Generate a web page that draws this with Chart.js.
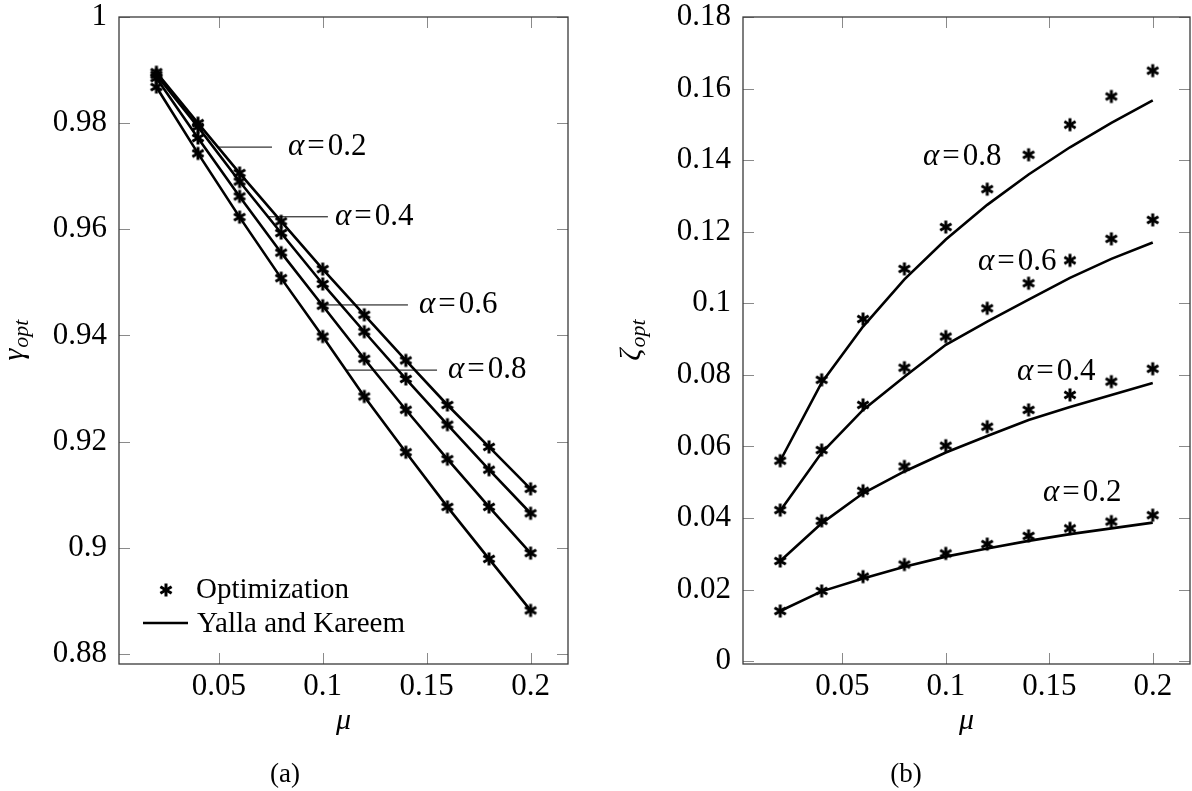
<!DOCTYPE html>
<html>
<head>
<meta charset="utf-8">
<script src="https://cdn.jsdelivr.net/npm/chart.js@4.4.0/dist/chart.umd.min.js"></script>
<style>
  html, body { margin: 0; padding: 0; background: #fff; }
  #wrap { position: relative; width: 1192px; height: 791px; overflow: hidden; }
  #wrap canvas { position: absolute; top: 0; }
  .cap { position: absolute; font: 27px "Liberation Serif", serif; color: #000; transform: translate(-50%, -50%); }
</style>
</head>
<body>
<div id="wrap">
  <canvas id="gamma" width="596" height="791" style="left:0"></canvas>
  <canvas id="zeta" width="596" height="791" style="left:596px"></canvas>
  <div class="cap" style="left:285px; top:773px">(a)</div>
  <div class="cap" style="left:906px; top:773px">(b)</div>
</div>
<script>
// mass ratio
const mu = [0.02, 0.04, 0.06, 0.08, 0.1, 0.12, 0.14, 0.16, 0.18, 0.2];
const alphas = ['0.2', '0.4', '0.6', '0.8'];

// optimal frequency ratio, optimization results
const gammaOpt02 = [0.9896, 0.9800, 0.9706, 0.9615, 0.9525, 0.9439, 0.9353, 0.9269, 0.9190, 0.9111];
const gammaOpt04 = [0.9891, 0.9793, 0.9690, 0.9593, 0.9497, 0.9407, 0.9318, 0.9232, 0.9147, 0.9065];
const gammaOpt06 = [0.9885, 0.9772, 0.9662, 0.9556, 0.9456, 0.9356, 0.9260, 0.9167, 0.9077, 0.8990];
const gammaOpt08 = [0.9868, 0.9743, 0.9623, 0.9508, 0.9398, 0.9285, 0.9180, 0.9077, 0.8979, 0.8882];
// optimal frequency ratio, Yalla and Kareem
const gammaYK02 = [0.9896, 0.9800, 0.9706, 0.9615, 0.9525, 0.9439, 0.9353, 0.9269, 0.9190, 0.9111];
const gammaYK04 = [0.9891, 0.9793, 0.9690, 0.9593, 0.9497, 0.9407, 0.9318, 0.9232, 0.9147, 0.9065];
const gammaYK06 = [0.9885, 0.9772, 0.9662, 0.9556, 0.9456, 0.9356, 0.9260, 0.9167, 0.9077, 0.8990];
const gammaYK08 = [0.9868, 0.9743, 0.9623, 0.9508, 0.9398, 0.9285, 0.9180, 0.9077, 0.8979, 0.8882];

// optimal damping ratio, optimization results
const zetaOpt02 = [0.0140, 0.0196, 0.0236, 0.0270, 0.0301, 0.0327, 0.0350, 0.0371, 0.0390, 0.0408];
const zetaOpt04 = [0.0280, 0.0392, 0.0476, 0.0544, 0.0602, 0.0655, 0.0702, 0.0744, 0.0781, 0.0817];
const zetaOpt06 = [0.0422, 0.0590, 0.0716, 0.0820, 0.0907, 0.0986, 0.1056, 0.1120, 0.1180, 0.1233];
const zetaOpt08 = [0.0560, 0.0786, 0.0956, 0.1096, 0.1213, 0.1319, 0.1415, 0.1499, 0.1578, 0.1650];
// optimal damping ratio, Yalla and Kareem
const zetaYK02 = [0.0140, 0.0195, 0.0231, 0.0264, 0.0292, 0.0315, 0.0336, 0.0355, 0.0371, 0.0387];
const zetaYK04 = [0.0280, 0.0385, 0.0469, 0.0530, 0.0583, 0.0629, 0.0674, 0.0710, 0.0744, 0.0777];
const zetaYK06 = [0.0420, 0.0582, 0.0702, 0.0795, 0.0884, 0.0949, 0.1010, 0.1071, 0.1124, 0.1170];
const zetaYK08 = [0.0560, 0.0778, 0.0935, 0.1067, 0.1178, 0.1275, 0.1360, 0.1436, 0.1504, 0.1567];

const muTicks = [0.05, 0.1, 0.15, 0.2];
const gammaTicks = [0.88, 0.9, 0.92, 0.94, 0.96, 0.98, 1];
const zetaTicks = [0, 0.02, 0.04, 0.06, 0.08, 0.1, 0.12, 0.14, 0.16, 0.18];

const FONT = '"Liberation Serif", "Times New Roman", serif';
const fmt = v => String(+Number(v).toFixed(3));

// six-armed asterisk mark
function asterisk(r, lw) {
  const c = document.createElement('canvas');
  const s = Math.ceil(2 * r + lw + 2);
  c.width = c.height = s;
  const g = c.getContext('2d');
  g.translate(s / 2, s / 2);
  g.strokeStyle = '#000';
  g.lineWidth = lw;
  for (let k = 0; k < 3; k++) {
    const a = Math.PI / 2 + k * Math.PI / 3;
    g.beginPath();
    g.moveTo(Math.cos(a) * r, Math.sin(a) * r);
    g.lineTo(-Math.cos(a) * r, -Math.sin(a) * r);
    g.stroke();
  }
  return c;
}
const mark = asterisk(6.5, 3);

const pts = ys => mu.map((x, i) => ({x: x, y: ys[i]}));
const markSet = ys => ({data: pts(ys), showLine: false, pointStyle: mark, pointRadius: 6});
const lineSet = ys => ({data: pts(ys), showLine: true, borderColor: '#000', borderWidth: 2.6, pointRadius: 0, tension: 0});

function lerp(ys, x) {
  for (let i = 0; i < mu.length - 1; i++) {
    if (x <= mu[i + 1]) return ys[i] + (ys[i + 1] - ys[i]) * (x - mu[i]) / (mu[i + 1] - mu[i]);
  }
  return ys[ys.length - 1];
}

function drawAlpha(ctx, x, y, val) {
  ctx.textBaseline = 'middle';
  ctx.textAlign = 'left';
  ctx.fillStyle = '#000';
  ctx.font = 'italic 31px ' + FONT;
  ctx.fillText('α', x, y);
  x += ctx.measureText('α').width + 3;
  ctx.font = '31px ' + FONT;
  ctx.fillText('=', x, y);
  x += ctx.measureText('=').width + 3;
  ctx.fillText(val, x, y);
}

// frame, inward ticks, rotated y title, annotations and legend
const decor = {
  id: 'decor',
  beforeDatasetsDraw(chart, args, o) {
    const {ctx, chartArea: a, scales: {x, y}} = chart;
    ctx.save();
    ctx.strokeStyle = '#8a8a8a';
    ctx.lineWidth = 1;
    ctx.beginPath();
    x.ticks.forEach(t => {
      const p = Math.round(x.getPixelForValue(t.value)) + 0.5;
      ctx.moveTo(p, a.bottom); ctx.lineTo(p, a.bottom - 11);
      ctx.moveTo(p, a.top); ctx.lineTo(p, a.top + 11);
    });
    y.ticks.forEach(t => {
      const p = Math.round(y.getPixelForValue(t.value)) + 0.5;
      ctx.moveTo(a.left, p); ctx.lineTo(a.left + 11, p);
      ctx.moveTo(a.right, p); ctx.lineTo(a.right - 11, p);
    });
    ctx.stroke();
    ctx.strokeStyle = '#3a3a3a';
    ctx.lineWidth = 1.3;
    ctx.strokeRect(a.left, a.top, a.width, a.height);

    // y axis title with subscript
    ctx.translate(a.left - o.titleOffset, (a.top + a.bottom) / 2);
    ctx.rotate(-Math.PI / 2);
    ctx.fillStyle = '#000';
    ctx.textAlign = 'left';
    ctx.textBaseline = 'alphabetic';
    ctx.font = 'italic 30px ' + FONT;
    const w1 = ctx.measureText(o.symbol).width;
    ctx.font = 'italic 22px ' + FONT;
    const w2 = ctx.measureText('opt').width;
    const x0 = -(w1 + w2) / 2;
    ctx.font = 'italic 30px ' + FONT;
    ctx.fillText(o.symbol, x0, 0);
    ctx.font = 'italic 22px ' + FONT;
    ctx.fillText('opt', x0 + w1 + 1, 5);
    ctx.restore();
  },
  afterDatasetsDraw(chart, args, o) {
    const {ctx, chartArea: a, scales: {x, y}} = chart;
    ctx.save();
    o.notes.forEach(n => {
      const ly = y.getPixelForValue(n.y);
      if (n.pinFrom !== undefined) {
        ctx.strokeStyle = '#000';
        ctx.lineWidth = 1;
        ctx.beginPath();
        ctx.moveTo(x.getPixelForValue(n.pinFrom), ly);
        ctx.lineTo(x.getPixelForValue(n.pinTo), ly);
        ctx.stroke();
      }
      drawAlpha(ctx, x.getPixelForValue(n.x), ly, n.text);
    });
    if (o.legend) {
      ctx.drawImage(mark, a.left + 47 - mark.width / 2, a.bottom - 74 - mark.height / 2);
      ctx.strokeStyle = '#000';
      ctx.lineWidth = 2.6;
      ctx.beginPath();
      ctx.moveTo(a.left + 24, a.bottom - 41);
      ctx.lineTo(a.left + 69, a.bottom - 41);
      ctx.stroke();
      ctx.fillStyle = '#000';
      ctx.font = '29px ' + FONT;
      ctx.textAlign = 'left';
      ctx.textBaseline = 'alphabetic';
      ctx.fillText('Optimization', a.left + 77, a.bottom - 66);
      ctx.fillText('Yalla and Kareem', a.left + 78, a.bottom - 32);
    }
    ctx.restore();
  }
};

function makeOptions(yMin, yMax, yTicks, yWidth, padRight, decorOpts) {
  return {
    responsive: false,
    animation: false,
    events: [],
    layout: {autoPadding: false, padding: {top: 17, right: padRight, bottom: 0, left: 0}},
    plugins: {legend: {display: false}, tooltip: {enabled: false}, decor: decorOpts},
    scales: {
      x: {
        type: 'linear', min: 0.002, max: 0.218,
        afterBuildTicks: s => { s.ticks = muTicks.map(v => ({value: v})); },
        afterFit: s => { s.height = 127; s.paddingLeft = 0; s.paddingRight = 0; },
        grid: {display: false, drawTicks: false},
        border: {display: false},
        ticks: {color: '#000', font: {family: FONT, size: 31}, padding: 4, maxRotation: 0, autoSkip: false, callback: fmt},
        title: {display: true, text: 'μ', color: '#000', font: {family: FONT, size: 30, style: 'italic'}, padding: {top: 0, bottom: 52}}
      },
      y: {
        type: 'linear', min: yMin, max: yMax,
        afterBuildTicks: s => { s.ticks = yTicks.map(v => ({value: v})); },
        afterFit: s => { s.width = yWidth; s.paddingTop = 0; s.paddingBottom = 0; },
        grid: {display: false, drawTicks: false},
        border: {display: false},
        ticks: {color: '#000', font: {family: FONT, size: 31}, padding: 12, autoSkip: false, callback: fmt}
      }
    }
  };
}

new Chart(document.getElementById('gamma'), {
  type: 'scatter',
  data: {
    datasets: [
      markSet(gammaOpt02), markSet(gammaOpt04), markSet(gammaOpt06), markSet(gammaOpt08),
      lineSet(gammaYK02), lineSet(gammaYK04), lineSet(gammaYK06), lineSet(gammaYK08)
    ]
  },
  options: makeOptions(0.8781, 1, gammaTicks, 119, 28, {
    symbol: 'γ', titleOffset: 96, legend: true,
    notes: [
      {text: alphas[0], pinFrom: 0.0496, pinTo: 0.0756, x: 0.0833, y: lerp(gammaYK02, 0.0496)},
      {text: alphas[1], pinFrom: 0.0737, pinTo: 0.1025, x: 0.1059, y: lerp(gammaYK04, 0.0737)},
      {text: alphas[2], pinFrom: 0.0997, pinTo: 0.1410, x: 0.1463, y: lerp(gammaYK06, 0.0997)},
      {text: alphas[3], pinFrom: 0.1112, pinTo: 0.1550, x: 0.1603, y: lerp(gammaYK08, 0.1112)}
    ]
  }),
  plugins: [decor]
});

new Chart(document.getElementById('zeta'), {
  type: 'scatter',
  data: {
    datasets: [
      markSet(zetaOpt02), markSet(zetaOpt04), markSet(zetaOpt06), markSet(zetaOpt08),
      lineSet(zetaYK02), lineSet(zetaYK04), lineSet(zetaYK06), lineSet(zetaYK08)
    ]
  },
  options: makeOptions(-0.0008, 0.18, zetaTicks, 147, 2, {
    symbol: 'ζ', titleOffset: 103, legend: false,
    notes: [
      {text: alphas[3], x: 0.089, y: 0.141},
      {text: alphas[2], x: 0.1156, y: 0.1116},
      {text: alphas[1], x: 0.1344, y: 0.0808},
      {text: alphas[0], x: 0.147, y: 0.047}
    ]
  }),
  plugins: [decor]
});
</script>
</body>
</html>
